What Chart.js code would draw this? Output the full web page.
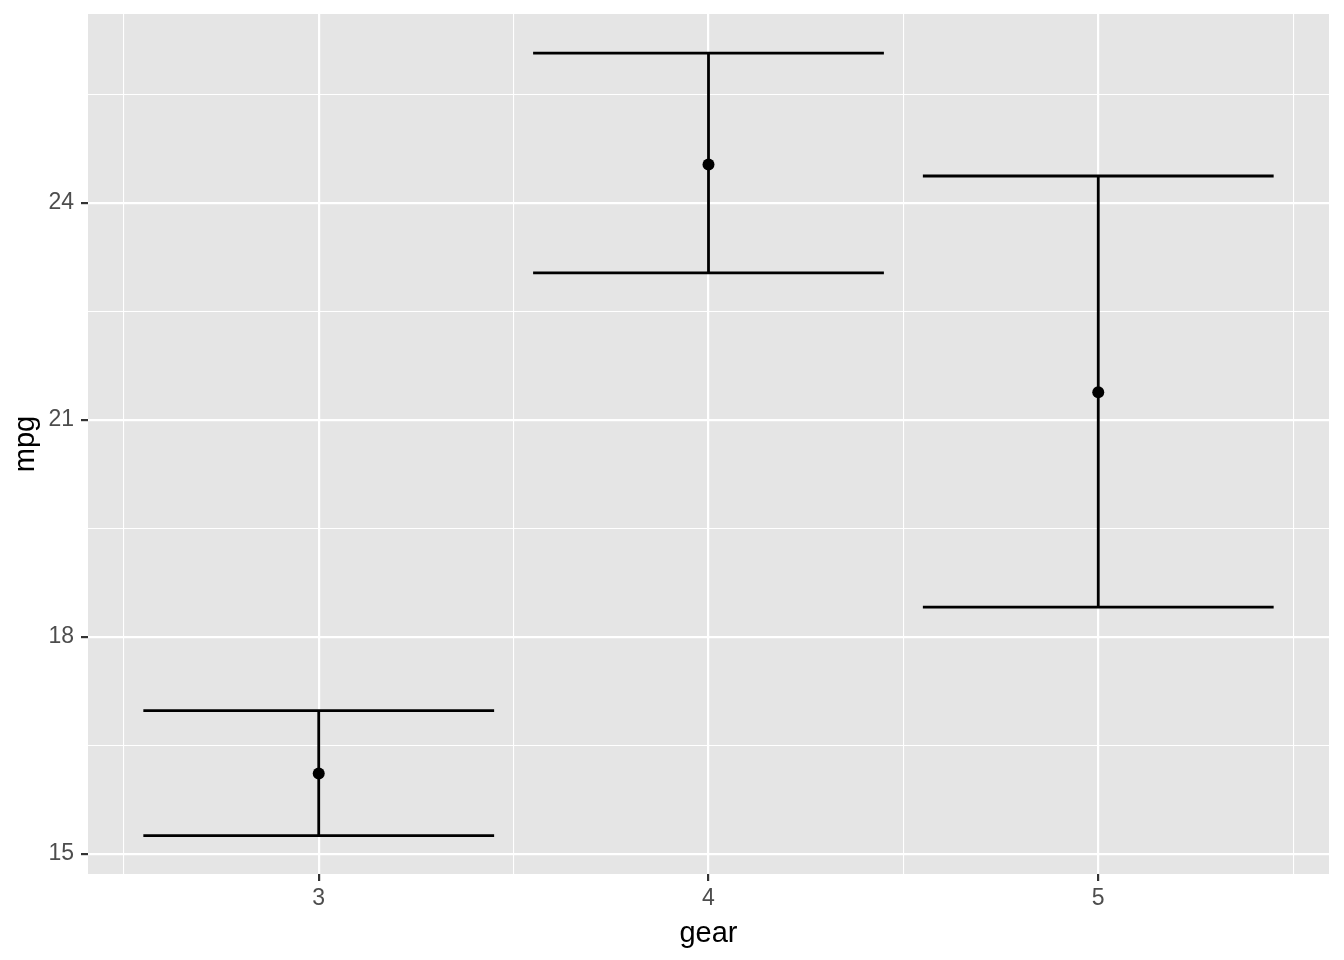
<!DOCTYPE html>
<html>
<head>
<meta charset="utf-8">
<script src="https://cdn.jsdelivr.net/npm/chart.js@4.4.1/dist/chart.umd.min.js"></script>
<style>
  html, body { margin: 0; padding: 0; background: #fff; }
  canvas { display: block; }
</style>
</head>
<body>
<canvas id="chart" width="1344" height="960"></canvas>
<script>
// mpg by gear: mean with error bars
var gears = [3, 4, 5];
var mpgMean = [16.11, 24.53, 21.38];
var mpgLow = [15.25, 23.03, 18.41];
var mpgHigh = [16.98, 26.07, 24.37];
var barHalfWidth = 0.45;

var xTicks = [2.5, 3, 3.5, 4, 4.5, 5, 5.5];
var xMajor = [3, 4, 5];
var yTicks = [15, 16.5, 18, 19.5, 21, 22.5, 24, 25.5];
var yMajor = [15, 18, 21, 24];

function isMajor(list, v) {
  return list.indexOf(v) !== -1;
}

// error bar segments, separated by gaps
var barPts = [];
for (var i = 0; i < gears.length; i++) {
  var g = gears[i];
  barPts.push({x: g - barHalfWidth, y: mpgHigh[i]}, {x: g + barHalfWidth, y: mpgHigh[i]}, {x: g, y: null});
  barPts.push({x: g - barHalfWidth, y: mpgLow[i]}, {x: g + barHalfWidth, y: mpgLow[i]}, {x: g, y: null});
  barPts.push({x: g, y: mpgLow[i]}, {x: g, y: mpgHigh[i]}, {x: g, y: null});
}
var meanPts = gears.map(function (g, i) { return {x: g, y: mpgMean[i]}; });

var panelBg = {
  id: 'panelBg',
  beforeDraw: function (chart) {
    var a = chart.chartArea, ctx = chart.ctx;
    ctx.save();
    ctx.fillStyle = '#E5E5E5';
    ctx.fillRect(a.left, a.top, a.right - a.left, a.bottom - a.top);
    ctx.restore();
  }
};

function gridFor(major) {
  return {
    color: '#FFFFFF',
    lineWidth: function (c) { return isMajor(major, c.tick.value) ? 2.2 : 1.1; },
    tickColor: function (c) { return isMajor(major, c.tick.value) ? '#333333' : 'rgba(0,0,0,0)'; },
    tickWidth: 2.2,
    tickLength: 7,
    drawTicks: true
  };
}

new Chart(document.getElementById('chart').getContext('2d'), {
  type: 'line',
  data: {
    datasets: [
      {
        data: meanPts,
        showLine: false,
        pointRadius: 6,
        pointBackgroundColor: '#000000',
        pointBorderWidth: 0
      },
      {
        data: barPts,
        borderColor: '#000000',
        borderWidth: 2.8,
        pointRadius: 0,
        spanGaps: false,
        fill: false
      }
    ]
  },
  plugins: [panelBg],
  options: {
    responsive: false,
    animation: false,
    devicePixelRatio: 1,
    layout: { padding: { top: 14, right: 15, left: 0, bottom: 0 } },
    plugins: { legend: { display: false }, tooltip: { enabled: false } },
    scales: {
      x: {
        type: 'linear',
        min: 2.408,
        max: 5.592,
        afterBuildTicks: function (s) { s.ticks = xTicks.map(function (v) { return {value: v}; }); },
        afterFit: function (s) { s.height = 86; s.paddingLeft = 0; s.paddingRight = 0; },
        grid: gridFor(xMajor),
        border: { display: false },
        ticks: {
          autoSkip: false,
          maxRotation: 0,
          padding: 4,
          color: '#4D4D4D',
          font: { family: 'Liberation Sans, Arial, sans-serif', size: 23 },
          callback: function (v) { return isMajor(xMajor, v) ? String(v) : ''; }
        },
        title: {
          display: true,
          text: 'gear',
          color: '#000000',
          padding: { top: 0, bottom: 9 },
          font: { family: 'Liberation Sans, Arial, sans-serif', size: 29 }
        }
      },
      y: {
        type: 'linear',
        min: 14.72,
        max: 26.61,
        afterBuildTicks: function (s) { s.ticks = yTicks.map(function (v) { return {value: v}; }); },
        afterFit: function (s) { s.width = 88; s.paddingTop = 0; s.paddingBottom = 0; },
        grid: gridFor(yMajor),
        border: { display: false },
        ticks: {
          autoSkip: false,
          padding: 7,
          color: '#4D4D4D',
          font: { family: 'Liberation Sans, Arial, sans-serif', size: 23 },
          callback: function (v) { return isMajor(yMajor, v) ? String(v) : ''; }
        },
        title: {
          display: true,
          text: 'mpg',
          color: '#000000',
          padding: { top: 9, bottom: 0 },
          font: { family: 'Liberation Sans, Arial, sans-serif', size: 29 }
        }
      }
    }
  }
});
</script>
</body>
</html>
